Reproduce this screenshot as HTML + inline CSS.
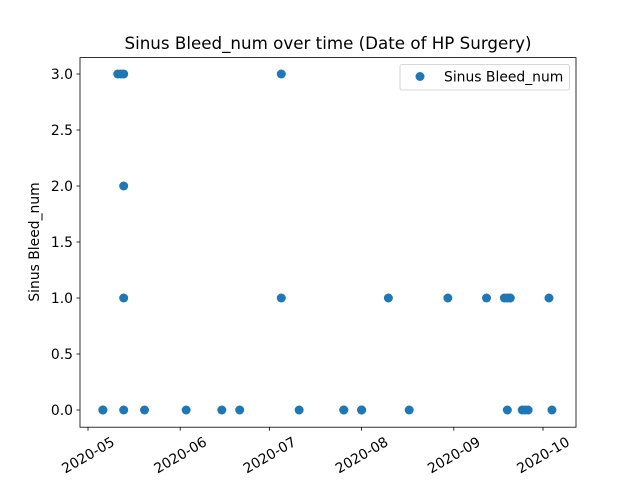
<!DOCTYPE html>
<html><head><meta charset="utf-8"><style>
body{margin:0;background:#fff}
</style></head><body>
<svg id="chart" width="640" height="480" xmlns="http://www.w3.org/2000/svg" font-family="DejaVu Sans, Liberation Sans, sans-serif">
<rect width="640" height="480" fill="#fff"/>
<text x="328" y="49" text-anchor="middle" font-size="16.7">Sinus Bleed_num over time (Date of HP Surgery)</text>
<text transform="translate(39,242) rotate(-90)" text-anchor="middle" font-size="13.9">Sinus Bleed_num</text>
<g id="plot"></g>
<rect x="80" y="57.6" width="496" height="369.6" fill="none" stroke="#000" stroke-width="0.8"/>
<g>
<rect x="400" y="64.5" width="169.5" height="25.5" rx="2" fill="#fff" fill-opacity="0.8" stroke="#ccc" stroke-width="0.8"/>
<circle cx="420" cy="76.5" r="4.5" fill="#1f77b4"/>
<text x="444" y="81.5" font-size="13.9">Sinus Bleed_num</text>
</g>
</svg>
<script>
const dates=["2020-05-06","2020-05-06","2020-05-13","2020-05-20","2020-06-03","2020-06-15","2020-06-21","2020-07-11","2020-07-26","2020-07-26","2020-08-01","2020-08-01","2020-08-17","2020-09-19","2020-09-24","2020-09-25","2020-09-26","2020-10-04",
"2020-05-13","2020-07-05","2020-08-10","2020-08-30","2020-09-12","2020-09-18","2020-09-19","2020-09-20","2020-10-03",
"2020-05-13",
"2020-05-11","2020-05-12","2020-05-13","2020-07-05"];
const values=[0,0,0,0,0,0,0,0,0,0,0,0,0,0,0,0,0,0,
1,1,1,1,1,1,1,1,1,
2,
3,3,3,3];
const xTickLabels=["2020-05","2020-06","2020-07","2020-08","2020-09","2020-10"];
const yTickValues=[0,0.5,1,1.5,2,2.5,3];
const NS="http://www.w3.org/2000/svg";
const t0=Date.UTC(2020,4,1);
function dayOf(s){const p=s.split("-");return (Date.UTC(+p[0],+p[1]-1,+p[2])-t0)/86400000;}
function xScale(s){return 88+dayOf(s+(s.length===7?"-01":""))*2.974;}
function yScale(v){return 410-v*112;}
const g=document.getElementById("plot");
function mk(tag,attrs){const e=document.createElementNS(NS,tag);for(const k in attrs)e.setAttribute(k,attrs[k]);g.appendChild(e);return e;}
yTickValues.forEach(v=>{const y=yScale(v);
 const l=mk("line",{x1:76.5,x2:80,y1:y,y2:y,stroke:"#000","stroke-width":0.8});
 
 
 const t=mk("text",{x:73,y:y+5,"text-anchor":"end","font-size":13.9});t.textContent=v.toFixed(1);
 
 
});
xTickLabels.forEach(s=>{const x=xScale(s);
 const l=mk("line",{x1:x,x2:x,y1:427.2,y2:430.7,stroke:"#000","stroke-width":0.8});
 
 
 const t=mk("text",{transform:`translate(${x},${455}) rotate(-30)`,"text-anchor":"middle","font-size":13.9,dy:"0.35em"});t.textContent=s;
 
 
});
dates.forEach((d,i)=>{
 const c=mk("circle",{cx:xScale(d),cy:yScale(values[i]),r:4.5,fill:"#1f77b4"});
 
 
});
</script>
</body></html>
